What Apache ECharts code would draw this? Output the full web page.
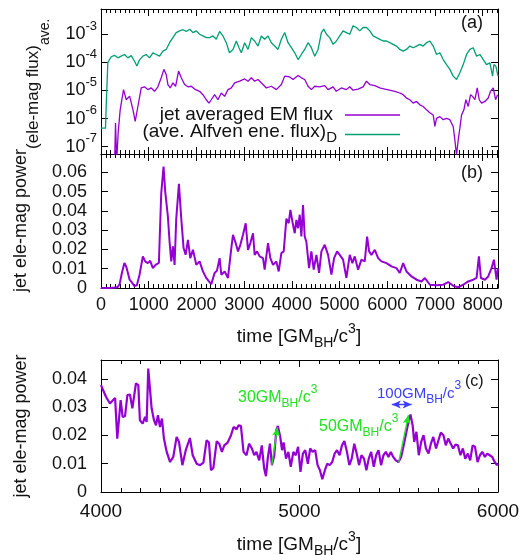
<!DOCTYPE html>
<html>
<head>
<meta charset="utf-8">
<script src="https://cdn.jsdelivr.net/npm/echarts@6/dist/echarts.min.js"></script>
<style>
  html, body { margin: 0; padding: 0; background: #fff; }
  #box { width: 530px; height: 555px; }
</style>
</head>
<body>
<div id="box"></div>
<script>
// panel (a): [time, log10 of flux]
var emFluxLog = [
  [280,-8],[304,-6.16],[330,-7.5],[360,-6.5],[402,-5.69],[472,-4.97],[530,-5.33],[600,-5.2],[670,-5.69],
  [717,-6.1],[773,-5.57],[843,-4.91],[913,-4.87],[983,-4.97],[1052,-4.91],[1122,-5.03],[1192,-4.87],
  [1262,-4.55],[1318,-4.25],[1367,-4.43],[1402,-4.79],[1451,-4.91],[1507,-4.73],[1563,-4.85],[1626,-4.31],
  [1682,-4.55],[1752,-4.79],[1822,-4.87],[1892,-4.85],[1962,-4.95],[2066,-5.03],[2136,-5.15],[2206,-5.33],
  [2262,-5.45],[2311,-5.33],[2381,-5.15],[2451,-5.33],[2521,-5.09],[2591,-5.21],[2661,-4.97],[2731,-4.91],
  [2801,-4.73],[2906,-4.67],[3011,-4.59],[3081,-4.67],[3151,-4.55],[3220,-4.67],[3290,-4.61],[3395,-4.79],
  [3465,-4.91],[3570,-4.85],[3675,-4.97],[3780,-4.79],[3850,-4.49],[3955,-4.52],[4025,-4.61],[4130,-4.47],
  [4199,-4.55],[4269,-4.61],[4339,-4.85],[4409,-4.97],[4479,-4.85],[4584,-4.87],[4689,-4.83],[4759,-4.97],
  [4864,-4.87],[4930,-5.03],[5038,-4.91],[5143,-4.97],[5213,-4.87],[5283,-4.99],[5388,-4.95],[5493,-4.87],
  [5563,-4.67],[5633,-4.79],[5738,-4.83],[5843,-4.91],[5948,-4.95],[6052,-4.99],[6157,-5.03],[6262,-5.09],
  [6332,-5.15],[6402,-5.27],[6472,-5.33],[6542,-5.45],[6612,-5.39],[6682,-5.51],[6752,-5.57],[6822,-5.69],
  [6892,-5.79],[6962,-5.87],[6997,-6.28],[7032,-5.99],[7102,-5.93],[7172,-6.04],[7241,-5.99],[7311,-6.04],
  [7381,-6.28],[7416,-6.76],[7451,-7.3],[7486,-6.76],[7521,-6.34],[7556,-5.87],[7605,-5.69],[7647,-5.33],
  [7696,-5.57],[7745,-5.15],[7787,-5.21],[7836,-5.33],[7885,-4.91],[7927,-5.33],[7976,-5.45],[8046,-5.39],
  [8115,-5.27],[8164,-5.03],[8220,-4.91],[8269,-5.33],[8311,-5.15]
];
var alfvenFluxLog = [
  [0,-6.34],[94,-6.34],[110,-5.5],[143,-4.01],[213,-3.8],[283,-3.75],[353,-3.84],[423,-3.78],[493,-3.72],
  [563,-3.84],[633,-3.76],[703,-3.96],[752,-4.13],[808,-3.91],[877,-3.78],[947,-3.72],[1017,-3.84],
  [1087,-3.66],[1157,-3.72],[1227,-3.78],[1297,-3.6],[1367,-3.54],[1437,-3.3],[1507,-3.12],[1577,-2.94],
  [1647,-2.88],[1717,-2.84],[1787,-2.9],[1857,-2.82],[1927,-2.94],[1997,-2.88],[2066,-3.0],[2136,-3.06],
  [2206,-3.12],[2276,-3.12],[2346,-3.06],[2416,-3.18],[2486,-2.9],[2556,-3.06],[2626,-3.3],[2692,-3.66],
  [2766,-3.54],[2836,-3.24],[2892,-3.48],[2941,-3.66],[3011,-3.3],[3081,-3.54],[3151,-3.12],[3220,-3.24],
  [3290,-3.42],[3360,-3.06],[3430,-3.18],[3500,-3.06],[3570,-3.3],[3640,-3.42],[3710,-3.54],[3780,-3.18],
  [3850,-2.94],[3920,-3.3],[3990,-3.48],[4060,-3.66],[4130,-3.9],[4199,-3.72],[4269,-3.54],[4339,-3.3],
  [4409,-3.48],[4479,-3.78],[4549,-3.54],[4619,-2.94],[4668,-2.82],[4724,-3.0],[4794,-3.12],[4864,-3.36],
  [4934,-3.24],[5003,-3.06],[5073,-2.88],[5143,-2.94],[5213,-3.0],[5283,-2.7],[5353,-2.76],[5423,-2.88],
  [5493,-2.76],[5563,-2.76],[5633,-2.88],[5703,-3.06],[5773,-3.12],[5843,-3.18],[5913,-3.24],[5983,-3.24],
  [6052,-3.3],[6122,-3.36],[6192,-3.42],[6262,-3.54],[6332,-3.6],[6402,-3.54],[6472,-3.42],[6542,-3.48],
  [6612,-3.42],[6682,-3.36],[6752,-3.42],[6822,-3.3],[6892,-3.24],[6962,-3.42],[7032,-3.72],[7102,-3.66],
  [7172,-3.9],[7241,-4.08],[7311,-4.25],[7381,-4.49],[7451,-4.61],[7521,-4.37],[7591,-4.08],[7661,-3.72],
  [7731,-3.54],[7801,-3.48],[7871,-3.78],[7941,-3.72],[8011,-3.9],[8080,-4.08],[8150,-4.02],[8206,-4.49],
  [8234,-4.08],[8276,-4.14],[8320,-4.49]
];
// panel (b): [time, jet ele-mag power]
var powerB = [
  [0,0],[100,0],[200,0],[300,0.0002],[350,0.0005],[390,0.002],[440,0.008],[490,0.013],[530,0.011],[600,0.0043],
  [654,0.0026],[700,0.001],[752,0.0014],[808,0.0069],[877,0.0164],[926,0.0138],[983,0.0129],[1031,0.0141],
  [1087,0.0103],[1143,0.012],[1213,0.013],[1262,0.049],[1311,0.063],[1346,0.05],[1402,0.037],[1437,0.024],
  [1472,0.0138],[1507,0.0216],[1542,0.012],[1577,0.036],[1633,0.054],[1682,0.036],[1731,0.0207],[1773,0.0172],
  [1822,0.025],[1871,0.0155],[1927,0.0198],[1997,0.012],[2066,0.0138],[2136,0.0086],[2206,0.0052],[2262,0.0034],
  [2311,0.002],[2381,0.0078],[2430,0.009],[2486,0.0155],[2521,0.0069],[2591,0.0086],[2661,0.0052],[2731,0.0207],
  [2766,0.0276],[2822,0.0233],[2871,0.019],[2920,0.0224],[2976,0.0276],[3032,0.0336],[3081,0.0198],[3130,0.0233],
  [3186,0.0284],[3220,0.0172],[3269,0.019],[3325,0.0164],[3395,0.0155],[3430,0.0095],[3500,0.0233],[3549,0.0155],
  [3605,0.012],[3675,0.0138],[3724,0.0086],[3780,0.0181],[3829,0.019],[3885,0.036],[3934,0.0336],[3969,0.0405],
  [4011,0.0345],[4060,0.0284],[4095,0.0353],[4130,0.031],[4165,0.038],[4199,0.0267],[4234,0.043],[4269,0.0267],
  [4304,0.024],[4360,0.0103],[4409,0.019],[4458,0.0095],[4514,0.0172],[4570,0.0078],[4619,0.019],[4689,0.0224],
  [4759,0.0172],[4829,0.0069],[4885,0.0155],[4948,0.019],[5003,0.0172],[5073,0.0147],[5143,0.0052],[5213,0.0172],
  [5269,0.0129],[5318,0.0164],[5388,0.0095],[5458,0.0147],[5528,0.0138],[5577,0.0267],[5619,0.019],[5668,0.0172],
  [5738,0.0198],[5808,0.0155],[5878,0.0138],[5983,0.0129],[6087,0.0112],[6192,0.0103],[6262,0.0078],[6332,0.0129],
  [6402,0.0086],[6507,0.006],[6612,0.0043],[6717,0.0034],[6787,0.0052],[6892,0.0017],[7032,0.0014],[7172,0.0017],
  [7276,0.0031],[7381,0.0012],[7486,0.0003],[7591,0.0017],[7696,0.0034],[7801,0.0043],[7871,0.0052],[7920,0.0164],
  [7962,0.0052],[8046,0.0043],[8115,0.006],[8185,0.0103],[8234,0.0147],[8290,0.0043],[8320,0.0103]
];
// panel (c): zoom 4000-6000
var powerC = [
  [4000,0.0378],[4025,0.0337],[4045,0.0313],[4071,0.0333],[4082,0.0189],[4099,0.0325],[4109,0.0266],[4121,0.0268],
  [4133,0.0343],[4146,0.0345],[4158,0.0296],[4176,0.0384],[4188,0.0378],[4196,0.0254],[4210,0.0242],[4222,0.0266],
  [4230,0.0248],[4238,0.0437],[4255,0.0296],[4267,0.0254],[4277,0.0236],[4287,0.0272],[4297,0.023],[4307,0.026],
  [4317,0.0189],[4331,0.0142],[4348,0.0106],[4364,0.0124],[4381,0.0195],[4393,0.0177],[4410,0.0095],[4427,0.0148],
  [4437,0.0142],[4448,0.0191],[4462,0.013],[4482,0.01],[4499,0.0095],[4516,0.0104],[4532,0.0183],[4544,0.0175],
  [4554,0.0077],[4566,0.0085],[4583,0.018],[4596,0.017],[4609,0.0142],[4621,0.0165],[4638,0.0175],[4655,0.0201],
  [4668,0.023],[4683,0.0222],[4693,0.0236],[4705,0.0233],[4718,0.0142],[4733,0.013],[4746,0.0171],[4760,0.0154],
  [4772,0.013],[4783,0.0142],[4797,0.0112],[4810,0.0165],[4822,0.0083],[4831,0.0056],[4841,0.0124],[4851,0.0171],
  [4861,0.0095],[4873,0.013],[4883,0.0219],[4891,0.0234],[4903,0.0195],[4912,0.0148],[4920,0.0175],[4932,0.0118],
  [4944,0.0142],[4956,0.0089],[4969,0.0142],[4981,0.013],[4993,0.016],[5005,0.0071],[5017,0.0136],[5029,0.0148],
  [5042,0.01],[5054,0.0154],[5066,0.0142],[5079,0.0148],[5091,0.0095],[5103,0.0077],[5115,0.0045],[5128,0.0077],
  [5140,0.01],[5152,0.0095],[5165,0.0106],[5177,0.0136],[5189,0.0148],[5202,0.013],[5214,0.0165],[5226,0.018],
  [5239,0.0142],[5251,0.0095],[5263,0.0118],[5276,0.0171],[5288,0.0136],[5300,0.0095],[5312,0.013],[5325,0.0118],
  [5337,0.0077],[5349,0.0118],[5361,0.0142],[5374,0.0089],[5386,0.013],[5398,0.0148],[5411,0.0095],[5423,0.013],
  [5435,0.0142],[5448,0.0124],[5460,0.0142],[5472,0.0124],[5485,0.0112],[5499,0.0106],[5512,0.0124],[5525,0.0165],
  [5537,0.0207],[5549,0.0248],[5559,0.0274],[5570,0.0236],[5578,0.0177],[5589,0.0213],[5601,0.013],[5613,0.0177],
  [5625,0.0201],[5637,0.0154],[5650,0.0136],[5662,0.0171],[5674,0.0195],[5688,0.0154],[5700,0.0183],[5712,0.021],
  [5725,0.0201],[5737,0.0165],[5749,0.0189],[5762,0.0171],[5774,0.0154],[5786,0.0168],[5798,0.0165],[5811,0.013],
  [5823,0.0154],[5835,0.0118],[5848,0.0136],[5860,0.0112],[5872,0.0165],[5884,0.016],[5897,0.0106],[5909,0.013],
  [5921,0.0142],[5934,0.0124],[5946,0.0136],[5958,0.013],[5971,0.0124],[5983,0.0106],[5995,0.0095],[6000,0.01]
];
// time spans marked in panel (c): [from, to] in time and power
var span30 = [[4860,0.0095],[4889,0.0229]];
var span50 = [[5500,0.0106],[5549,0.0272]];
var span100 = [[5465,0.031],[5565,0.031]];

var FONT = 'Liberation Sans, Arial, sans-serif';
var PURPLE = '#9400D3', TEAL = '#009E73', LIME = '#22e022', BLUE = '#3c3cff';

function toPow(arr) {
    return arr.map(function (d) { return [d[0], Math.pow(10, d[1])]; });
}
function plain(v) { return String(v); }

function xAx(grid, pos, min, max, interval, len, line, label, minor) {
    return {
        type: 'value', gridIndex: grid, position: pos, min: min, max: max, interval: interval,
        axisLine: {show: line, onZero: false, lineStyle: {color: '#000', width: 1}},
        axisTick: {show: true, inside: true, length: len, lineStyle: {color: '#000'}},
        minorTick: {show: !!minor, splitNumber: 10, length: 4, lineStyle: {color: '#000'}},
        splitLine: {show: false},
        axisLabel: label ? Object.assign({fontSize: 18, fontFamily: FONT, color: '#111', formatter: plain}, label) : {show: false}
    };
}
function yAx(grid, pos, min, max, interval, label) {
    return {
        type: 'value', gridIndex: grid, position: pos, min: min, max: max, interval: interval,
        axisLine: {show: true, onZero: false, lineStyle: {color: '#000', width: 1}},
        axisTick: {show: true, inside: true, length: 7, lineStyle: {color: '#000'}},
        splitLine: {show: false},
        axisLabel: label ? Object.assign({fontSize: 18, fontFamily: FONT, color: '#111', margin: 14, showMaxLabel: false}, label) : {show: false}
    };
}
function logAx(pos, label) {
    var ax = yAx(0, pos, 5.5e-8, 7.9e-3, null, label);
    ax.type = 'log';
    ax.logBase = 10;
    delete ax.interval;
    return ax;
}

// rich text for sub/superscripts (zrender style names)
function rich(main, small, color) {
    return {
        m: {fontSize: main, fontFamily: FONT, fill: color, lineHeight: main + 2, verticalAlign: 'middle'},
        b: {fontSize: small, fontFamily: FONT, fill: color, lineHeight: small + 2, padding: [12, 0, 0, 0], verticalAlign: 'middle'},
        p: {fontSize: small, fontFamily: FONT, fill: color, lineHeight: small + 2, padding: [0, 0, 16, 0], verticalAlign: 'middle'}
    };
}
var GMC = '{b|BH}{m|/c}{p|3}';

var myChart = echarts.init(document.getElementById('box'));
var option = {
    animation: false,
    backgroundColor: '#fff',
    grid: [
        {left: 101, top: 9, width: 397, height: 145},
        {left: 101, top: 154, width: 397, height: 134},
        {left: 101, top: 360, width: 397, height: 132}
    ],
    xAxis: [
        xAx(0, 'bottom', 0, 8320, 1000, 7, true, null),
        xAx(0, 'bottom', 0, 8320, 100, 4, false, null),
        xAx(0, 'top', 0, 8320, 1000, 7, true, null),
        xAx(0, 'top', 0, 8320, 100, 4, false, null),
        xAx(1, 'bottom', 0, 8320, 1000, 7, true, {margin: 8, showMaxLabel: false}),
        xAx(1, 'bottom', 0, 8320, 100, 4, false, null),
        xAx(1, 'top', 0, 8320, 1000, 7, true, null),
        xAx(1, 'top', 0, 8320, 100, 4, false, null),
        xAx(2, 'bottom', 4000, 6000, 1000, 7, true, {margin: 10, fontSize: 19}, true),
        xAx(2, 'top', 4000, 6000, 1000, 7, true, null, true)
    ],
    yAxis: [
        logAx('left', {
            margin: 4,
            showMinLabel: false,
            formatter: function (v) {
                var e = Math.log10(v);
                if (Math.abs(e - Math.round(e)) > 0.01) return '';
                return '{b|10}{s|' + Math.round(e) + '}';
            },
            rich: {
                b: {fontSize: 18, fontFamily: FONT, color: '#111', lineHeight: 18},
                s: {fontSize: 13, fontFamily: FONT, color: '#111', lineHeight: 14, padding: [0, 0, 16, 0]}
            }
        }),
        logAx('right', null),
        yAx(1, 'left', 0, 0.0695, 0.01, {}),
        yAx(1, 'right', 0, 0.0695, 0.01, null),
        yAx(2, 'left', 0, 0.0467, 0.01, {}),
        yAx(2, 'right', 0, 0.0467, 0.01, null)
    ],
    legend: [
        {
            data: ['jet averaged EM flux'], right: 130, top: 105, orient: 'vertical', align: 'right',
            icon: 'rect', itemWidth: 55, itemHeight: 1.5, padding: 0, selectedMode: false,
            textStyle: {fontSize: 19, lineHeight: 20, fontFamily: FONT, color: '#111', padding: [0, 7, 0, 0]}
        },
        {
            data: ['(ave. Alfven ene. flux)_D'], right: 130, top: 122, orient: 'vertical', align: 'right',
            icon: 'rect', itemWidth: 55, itemHeight: 1.5, padding: 0, selectedMode: false,
            formatter: function () { return '{m|(ave. Alfven ene. flux)}{d|D}'; },
            textStyle: {
                padding: [0, 3, 0, 0],
                rich: {
                    m: {fontSize: 19, fontFamily: FONT, color: '#111', lineHeight: 20, padding: [0, 0, 6, 0]},
                    d: {fontSize: 15, fontFamily: FONT, color: '#111', lineHeight: 16, padding: [6, 0, 0, 0]}
                }
            }
        }
    ],
    series: [
        {
            name: 'jet averaged EM flux', type: 'line', xAxisIndex: 0, yAxisIndex: 0,
            data: toPow(emFluxLog), symbol: 'none', color: PURPLE,
            lineStyle: {color: PURPLE, width: 1.3}
        },
        {
            name: '(ave. Alfven ene. flux)_D', type: 'line', xAxisIndex: 0, yAxisIndex: 0,
            data: toPow(alfvenFluxLog), symbol: 'none', color: TEAL,
            lineStyle: {color: TEAL, width: 1.3}
        },
        {
            name: 'power b', type: 'line', xAxisIndex: 4, yAxisIndex: 2,
            data: powerB, symbol: 'none', color: PURPLE,
            lineStyle: {color: PURPLE, width: 2}
        },
        {
            name: 'power c', type: 'line', xAxisIndex: 8, yAxisIndex: 4,
            data: powerC, symbol: 'none', color: PURPLE,
            lineStyle: {color: PURPLE, width: 2.2},
            markLine: {
                silent: true, symbolSize: [6, 9], label: {show: false},
                lineStyle: {type: 'solid', width: 1.4},
                data: [
                    [{coord: span30[0], symbol: 'none', lineStyle: {color: LIME}}, {coord: span30[1], symbol: 'arrow', lineStyle: {color: LIME}}],
                    [{coord: span50[0], symbol: 'none', lineStyle: {color: LIME}}, {coord: span50[1], symbol: 'arrow', lineStyle: {color: LIME}}],
                    [{coord: span100[0], symbol: 'arrow', lineStyle: {color: BLUE}}, {coord: span100[1], symbol: 'arrow', lineStyle: {color: BLUE}}]
                ]
            }
        }
    ],
    graphic: [
        {
            type: 'text', x: 21, y: 292, rotation: Math.PI / 2, silent: true,
            style: {
                text: '{m|jet ele-mag power}{s|(ele-mag flux)}{t|ave.}', align: 'left', verticalAlign: 'middle',
                rich: {
                    m: {fontSize: 18, fontFamily: FONT, fill: '#111', lineHeight: 20, verticalAlign: 'middle'},
                    s: {fontSize: 17, fontFamily: FONT, fill: '#111', lineHeight: 18, padding: [24, 0, 0, 0], verticalAlign: 'middle'},
                    t: {fontSize: 14, fontFamily: FONT, fill: '#111', lineHeight: 16, padding: [48, 0, 0, 0], verticalAlign: 'middle'}
                }
            }
        },
        {
            type: 'text', x: 21, y: 426, rotation: Math.PI / 2, silent: true,
            style: {text: 'jet ele-mag power', fontSize: 18, fontFamily: FONT, fill: '#111', align: 'center', verticalAlign: 'middle'}
        },
        {
            type: 'text', x: 299, y: 337, silent: true,
            style: {text: '{m|time [GM}' + GMC + '{m|]}', align: 'center', verticalAlign: 'middle', rich: rich(19, 14, '#111')}
        },
        {
            type: 'text', x: 299, y: 545, silent: true,
            style: {text: '{m|time [GM}' + GMC + '{m|]}', align: 'center', verticalAlign: 'middle', rich: rich(19, 14, '#111')}
        },
        {
            type: 'text', x: 472, y: 23, silent: true,
            style: {text: '(a)', fontSize: 18, fontFamily: FONT, fill: '#111', align: 'center', verticalAlign: 'middle'}
        },
        {
            type: 'text', x: 472, y: 173, silent: true,
            style: {text: '(b)', fontSize: 18, fontFamily: FONT, fill: '#111', align: 'center', verticalAlign: 'middle'}
        },
        {
            type: 'text', x: 238, y: 398, silent: true,
            style: {text: '{m|30GM}' + GMC, align: 'left', verticalAlign: 'middle', rich: rich(16, 12, LIME)}
        },
        {
            type: 'text', x: 319, y: 427, silent: true,
            style: {text: '{m|50GM}' + GMC, align: 'left', verticalAlign: 'middle', rich: rich(16, 12, LIME)}
        },
        {
            type: 'text', x: 377, y: 394, silent: true,
            style: {text: '{m|100GM}' + GMC, align: 'left', verticalAlign: 'middle', rich: rich(15, 12, BLUE)}
        },
        {
            type: 'text', x: 465, y: 382, silent: true,
            style: {text: '(c)', fontSize: 16, fontFamily: FONT, fill: '#111', align: 'left', verticalAlign: 'middle'}
        }
    ]
};
myChart.setOption(option);
</script>
</body>
</html>
